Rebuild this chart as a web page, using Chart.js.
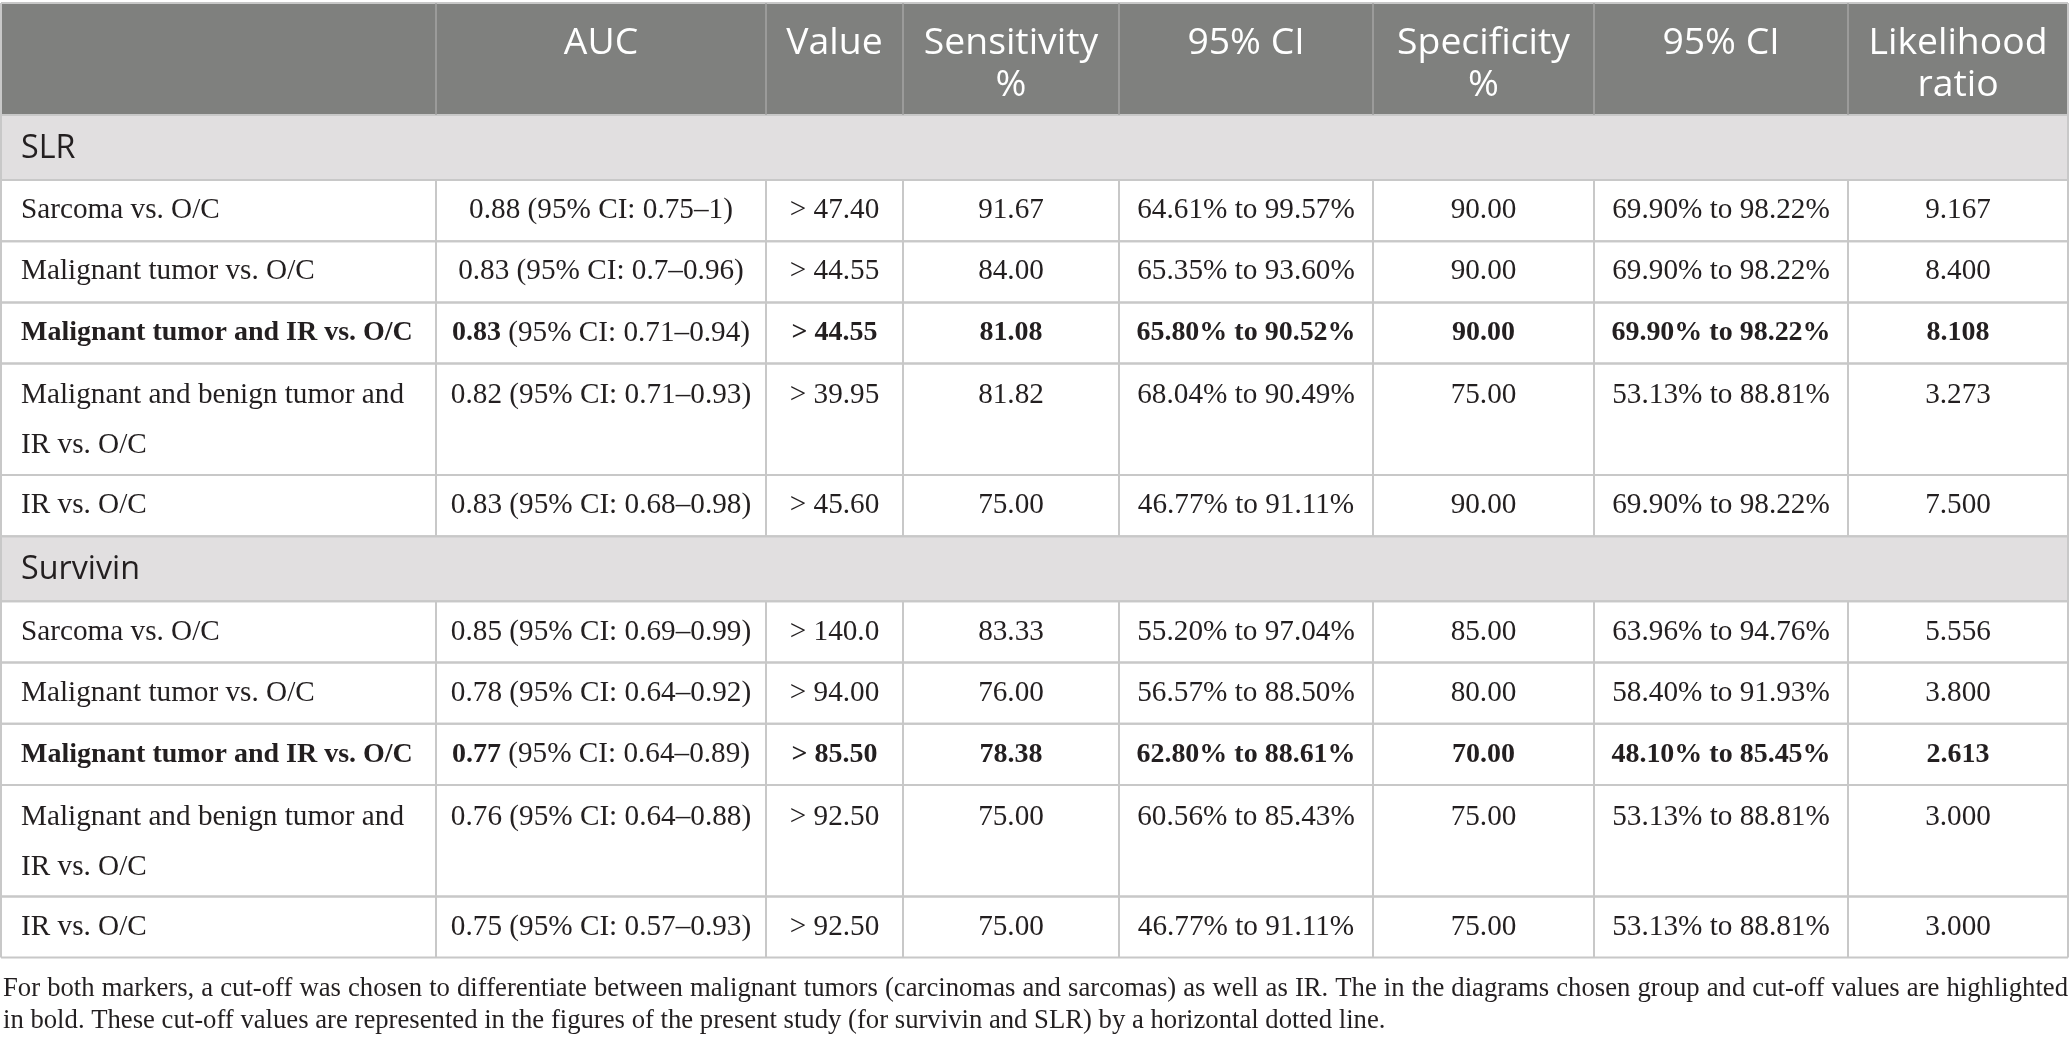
<!DOCTYPE html>
<html>
<head>
<meta charset="utf-8">
<title>SLR and survivin cut-off values</title>
<script src="https://cdn.jsdelivr.net/npm/chart.js@4.4.1/dist/chart.umd.min.js"></script>
<style>
    html, body { margin: 0; padding: 0; background: #ffffff; }
    #tableChart { display: block; }
</style>
</head>
<body>
<canvas id="tableChart" width="2070" height="1048"></canvas>
<script>
const columnHeaders = [[''], ['AUC'], ['Value'], ['Sensitivity', '%'], ['95% CI'], ['Specificity', '%'], ['95% CI'], ['Likelihood', 'ratio']];
const markerNames = ['SLR', 'Survivin'];
const groupLabels = ['Sarcoma vs. O/C', 'Malignant tumor vs. O/C', 'Malignant tumor and IR vs. O/C', 'Malignant and benign tumor and IR vs. O/C', 'IR vs. O/C'];
const highlightRow = 2;

const slrAuc = [0.88, 0.83, 0.83, 0.82, 0.83];
const slrAucLow = [0.75, 0.7, 0.71, 0.71, 0.68];
const slrAucHigh = [1, 0.96, 0.94, 0.93, 0.98];
const slrCutoff = [47.40, 44.55, 44.55, 39.95, 45.60];
const slrSens = [91.67, 84.00, 81.08, 81.82, 75.00];
const slrSensLow = [64.61, 65.35, 65.80, 68.04, 46.77];
const slrSensHigh = [99.57, 93.60, 90.52, 90.49, 91.11];
const slrSpec = [90.00, 90.00, 90.00, 75.00, 90.00];
const slrSpecLow = [69.90, 69.90, 69.90, 53.13, 69.90];
const slrSpecHigh = [98.22, 98.22, 98.22, 88.81, 98.22];
const slrLr = [9.167, 8.400, 8.108, 3.273, 7.500];

const survAuc = [0.85, 0.78, 0.77, 0.76, 0.75];
const survAucLow = [0.69, 0.64, 0.64, 0.64, 0.57];
const survAucHigh = [0.99, 0.92, 0.89, 0.88, 0.93];
const survCutoff = [140.0, 94.00, 85.50, 92.50, 92.50];
const survSens = [83.33, 76.00, 78.38, 75.00, 75.00];
const survSensLow = [55.20, 56.57, 62.80, 60.56, 46.77];
const survSensHigh = [97.04, 88.50, 88.61, 85.43, 91.11];
const survSpec = [85.00, 80.00, 70.00, 75.00, 75.00];
const survSpecLow = [63.96, 58.40, 48.10, 53.13, 53.13];
const survSpecHigh = [94.76, 91.93, 85.45, 88.81, 88.81];
const survLr = [5.556, 3.800, 2.613, 3.000, 3.000];

const footnoteLines = [
    'For both markers, a cut-off was chosen to differentiate between malignant tumors (carcinomas and sarcomas) as well as IR. The in the diagrams chosen group and cut-off values are highlighted',
    'in bold. These cut-off values are represented in the figures of the present study (for survivin and SLR) by a horizontal dotted line.'
];

// layout (in page units, mapped through the chart scales)
const colEdges = [1, 436, 766, 903, 1119, 1373, 1594, 1848, 2068];
const tableTop = 3;
const headerHeight = 112;
const sectionHeight = 65;
const rowHeight = 61.2;
const wrapRowHeight = 111.5;
const lineGap = 50;
const cellPadX = 21;
const labelWrapWidth = 400;
const footnoteY = [989, 1021];

const serif = '"Liberation Serif", "Times New Roman", serif';
const sans = '"Open Sans", "Noto Sans", sans-serif';
const textColor = '#231f20';
const lineColor = '#c8c8c8';

const markerTables = [
    {auc: slrAuc, aucLow: slrAucLow, aucHigh: slrAucHigh, cutoff: slrCutoff, sens: slrSens, sensLow: slrSensLow,
        sensHigh: slrSensHigh, spec: slrSpec, specLow: slrSpecLow, specHigh: slrSpecHigh, lr: slrLr},
    {auc: survAuc, aucLow: survAucLow, aucHigh: survAucHigh, cutoff: survCutoff, sens: survSens, sensLow: survSensLow,
        sensHigh: survSensHigh, spec: survSpec, specLow: survSpecLow, specHigh: survSpecHigh, lr: survLr}
];

function fitSize(ctx, font, text, target) {
    ctx.font = font.replace('SIZE', '100px');
    return 100 * target / ctx.measureText(text).width;
}

function wrapText(ctx, text, maxWidth) {
    let lines = [];
    let line = '';
    text.split(' ').forEach(word => {
        let test = line ? line + ' ' + word : word;
        if (line && ctx.measureText(test).width > maxWidth) {
            lines.push(line);
            line = word;
        } else {
            line = test;
        }
    });
    lines.push(line);
    return lines;
}

const tablePlugin = {
    id: 'tablePlugin',
    afterDraw(chart) {
        const ctx = chart.ctx;
        const xs = chart.scales.x;
        const ys = chart.scales.y;
        const px = v => xs.getPixelForValue(v);
        const py = v => ys.getPixelForValue(v);

        const bodySize = fitSize(ctx, 'SIZE ' + serif, 'Malignant tumor vs. O/C', 294);
        const boldSize = fitSize(ctx, 'bold SIZE ' + serif, 'Malignant tumor and IR vs. O/C', 392);
        const headSize = fitSize(ctx, 'SIZE ' + sans, 'Likelihood', 179);
        const sectionSize = fitSize(ctx, 'SIZE ' + sans, 'Survivin', 119);
        const noteSize = fitSize(ctx, 'SIZE ' + serif, footnoteLines[1], 1383);
        const bodyFont = bold => bold ? 'bold ' + boldSize + 'px ' + serif : bodySize + 'px ' + serif;

        // build rows
        let rows = [{kind: 'header', top: tableTop, height: headerHeight}];
        let cursor = tableTop + headerHeight;
        markerNames.forEach((name, m) => {
            rows.push({kind: 'section', label: name, top: cursor, height: sectionHeight});
            cursor += sectionHeight;
            const t = markerTables[m];
            groupLabels.forEach((label, i) => {
                const bold = i === highlightRow;
                ctx.font = bodyFont(bold);
                const labelLines = wrapText(ctx, label, labelWrapWidth);
                const h = labelLines.length > 1 ? wrapRowHeight : rowHeight;
                rows.push({
                    kind: 'data', bold: bold, top: cursor, height: h, wrapped: labelLines.length > 1,
                    cells: [
                        labelLines,
                        [[t.auc[i].toFixed(2), bold], [' (95% CI: ' + t.aucLow[i] + '–' + t.aucHigh[i] + ')', false]],
                        '> ' + t.cutoff[i].toPrecision(4),
                        t.sens[i].toFixed(2),
                        t.sensLow[i].toFixed(2) + '% to ' + t.sensHigh[i].toFixed(2) + '%',
                        t.spec[i].toFixed(2),
                        t.specLow[i].toFixed(2) + '% to ' + t.specHigh[i].toFixed(2) + '%',
                        t.lr[i].toFixed(3)
                    ]
                });
                cursor += h;
            });
        });
        const tableBottom = cursor;
        const left = px(colEdges[0]);
        const right = px(colEdges[colEdges.length - 1]);

        ctx.save();
        // backgrounds
        rows.forEach(r => {
            const y0 = py(r.top);
            const y1 = py(r.top + r.height);
            ctx.fillStyle = r.kind === 'header' ? '#7f807e' : (r.kind === 'section' ? '#e1dfe0' : '#ffffff');
            ctx.fillRect(left, y0, right - left, y1 - y0);
        });

        // grid lines
        ctx.lineWidth = 2;
        ctx.strokeStyle = lineColor;
        rows.forEach(r => {
            [r.top, r.top + r.height].forEach(v => {
                ctx.beginPath();
                ctx.moveTo(left, py(v));
                ctx.lineTo(right, py(v));
                ctx.stroke();
            });
        });
        rows.forEach(r => {
            if (r.kind === 'section') return;
            ctx.strokeStyle = r.kind === 'header' ? '#a4a4a4' : lineColor;
            ctx.lineWidth = r.kind === 'header' ? 1.5 : 2;
            colEdges.slice(1, -1).forEach(c => {
                ctx.beginPath();
                ctx.moveTo(px(c), py(r.top));
                ctx.lineTo(px(c), py(r.top + r.height));
                ctx.stroke();
            });
        });
        ctx.strokeStyle = lineColor;
        ctx.lineWidth = 2;
        [colEdges[0], colEdges[colEdges.length - 1]].forEach(c => {
            ctx.beginPath();
            ctx.moveTo(px(c), py(tableTop));
            ctx.lineTo(px(c), py(tableBottom));
            ctx.stroke();
        });

        // texts
        ctx.textBaseline = 'middle';
        rows.forEach(r => {
            if (r.kind === 'header') {
                ctx.fillStyle = '#ffffff';
                ctx.font = headSize + 'px ' + sans;
                ctx.textAlign = 'center';
                columnHeaders.forEach((lines, c) => {
                    const cx = px((colEdges[c] + colEdges[c + 1]) / 2);
                    lines.forEach((line, k) => ctx.fillText(line, cx, py(r.top + 40 + k * 42)));
                });
            } else if (r.kind === 'section') {
                ctx.fillStyle = textColor;
                ctx.font = sectionSize + 'px ' + sans;
                ctx.textAlign = 'left';
                ctx.fillText(r.label, px(colEdges[0] + cellPadX - 1), py(r.top + r.height / 2 + 1.5));
            } else {
                ctx.fillStyle = textColor;
                const firstY = r.top + (r.wrapped ? 32 : r.height / 2);
                r.cells.forEach((cell, c) => {
                    if (c === 0) {
                        ctx.textAlign = 'left';
                        ctx.font = bodyFont(r.bold);
                        cell.forEach((line, k) => ctx.fillText(line, px(colEdges[0] + cellPadX - 1), py(firstY + k * lineGap)));
                        return;
                    }
                    const cx = (colEdges[c] + colEdges[c + 1]) / 2;
                    if (Array.isArray(cell)) {
                        let widths = cell.map(p => { ctx.font = bodyFont(p[1]); return ctx.measureText(p[0]).width; });
                        let total = widths.reduce((a, b) => a + b, 0);
                        let x = px(cx) - total / 2;
                        ctx.textAlign = 'left';
                        cell.forEach((p, k) => {
                            ctx.font = bodyFont(p[1]);
                            ctx.fillText(p[0], x, py(firstY));
                            x += widths[k];
                        });
                    } else {
                        ctx.textAlign = 'center';
                        ctx.font = bodyFont(r.bold);
                        ctx.fillText(cell, px(cx), py(firstY));
                    }
                });
            }
        });

        // footnote, first line justified to the table width
        ctx.fillStyle = textColor;
        ctx.textAlign = 'left';
        ctx.font = noteSize + 'px ' + serif;
        footnoteLines.forEach((line, k) => {
            const yy = py(footnoteY[k]);
            if (k === footnoteLines.length - 1) {
                ctx.fillText(line, px(colEdges[0] + 2), yy);
                return;
            }
            const words = line.split(' ');
            const wordWidths = words.map(w => ctx.measureText(w).width);
            const free = (px(colEdges[colEdges.length - 1]) - px(colEdges[0] + 2)) - wordWidths.reduce((a, b) => a + b, 0);
            const gap = free / (words.length - 1);
            let x = px(colEdges[0] + 2);
            words.forEach((w, i) => {
                ctx.fillText(w, x, yy);
                x += wordWidths[i] + gap;
            });
        });
        ctx.restore();
    }
};

new Chart(document.getElementById('tableChart'), {
    type: 'scatter',
    data: {datasets: [{data: [], pointRadius: 0}]},
    options: {
        responsive: false,
        animation: false,
        layout: {padding: 0},
        events: [],
        scales: {
            x: {type: 'linear', min: 0, max: 2070, display: false},
            y: {type: 'linear', min: 0, max: 1048, reverse: true, display: false}
        },
        plugins: {
            legend: {display: false},
            tooltip: {enabled: false}
        }
    },
    plugins: [tablePlugin]
});
</script>
</body>
</html>
